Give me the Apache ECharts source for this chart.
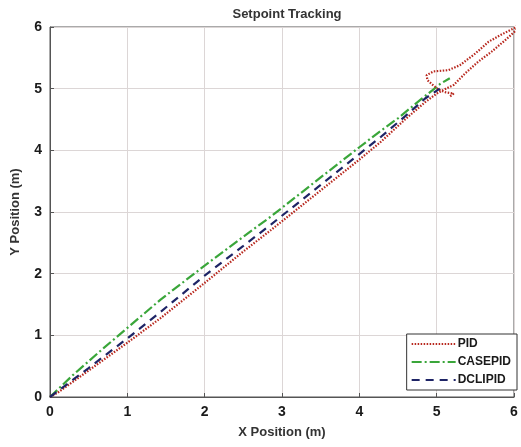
<!DOCTYPE html>
<html>
<head>
<meta charset="utf-8">
<script src="https://cdn.jsdelivr.net/npm/echarts@6/dist/echarts.min.js"></script>
<style>
html,body{margin:0;padding:0;background:#fff;}
#chart{width:521px;height:447px;}
</style>
</head>
<body>
<div id="chart"></div>
<script>
var seriesNames = ['PID', 'CASEPID', 'DCLIPID'];
var xTicks = [0, 1, 2, 3, 4, 5, 6];
var yTicks = [0, 1, 2, 3, 4, 5, 6];

// PID goes up the diagonal, overshoots and loops back near (5,5)
var pidData = [
	[0, 0], [0.1, 0.07], [0.5, 0.43], [1, 0.88], [1.43, 1.28], [2, 1.85],
	[2.5, 2.36], [2.86, 2.71], [3.5, 3.35], [4, 3.85], [4.28, 4.14],
	[4.59, 4.5], [4.85, 4.78], [5.0, 4.92], [5.12, 5.0], [5.22, 5.06],
	[5.37, 5.25], [5.54, 5.44], [5.71, 5.6], [5.89, 5.79], [6.03, 5.95],
	[6.05, 6.03], [6.0, 5.98], [5.84, 5.88], [5.67, 5.76], [5.5, 5.57],
	[5.3, 5.38], [5.15, 5.3], [4.96, 5.28], [4.87, 5.22], [4.88, 5.14],
	[4.95, 5.06], [5.03, 4.98], [5.12, 4.94], [5.22, 4.92], [5.16, 4.86]
];
var casepidData = [
	[0, 0], [0.3, 0.36], [0.7, 0.8], [1, 1.12], [1.43, 1.58], [2, 2.13],
	[2.5, 2.6], [2.86, 2.93], [3.5, 3.56], [4, 4.05], [4.28, 4.32],
	[4.5, 4.52], [4.8, 4.83], [5.05, 5.08], [5.17, 5.17]
];
var dclipidData = [
	[0, 0], [0.5, 0.47], [1, 0.95], [1.43, 1.38], [2, 1.97], [2.5, 2.45],
	[2.86, 2.8], [3.5, 3.44], [4, 3.94], [4.28, 4.22], [4.59, 4.55],
	[4.85, 4.84], [5.04, 5.0]
];

var myChart = echarts.init(document.getElementById('chart'));
var textColor = '#1a1a1a';
var font = 'Liberation Sans';
var option = {
	animation: false,
	backgroundColor: '#fff',
	title: {
		text: 'Setpoint Tracking',
		left: 282,
		textAlign: 'center',
		top: 3,
		textStyle: {fontFamily: font, fontSize: 13, fontWeight: 'bold', color: '#333'}
	},
	grid: {
		left: 50, right: 7, top: 27, bottom: 50,
		show: true, borderColor: '#555', borderWidth: 1
	},
	legend: {
		data: seriesNames,
		orient: 'vertical',
		right: 4,
		bottom: 57,
		itemWidth: 44,
		itemHeight: 12,
		itemGap: 6,
		padding: [4, 6, 4, 4],
		borderColor: '#333',
		borderWidth: 1,
		backgroundColor: '#fff',
		itemStyle: {opacity: 0, borderWidth: 0},
		textStyle: {fontFamily: font, fontSize: 12, fontWeight: 'bold', color: textColor, padding: [0, 0, 0, -3]}
	},
	xAxis: {
		type: 'value',
		min: xTicks[0], max: xTicks[xTicks.length - 1], interval: 1,
		name: 'X Position (m)',
		nameLocation: 'middle',
		nameGap: 29,
		nameTextStyle: {fontFamily: font, fontSize: 13, fontWeight: 'bold', color: '#333'},
		axisLine: {lineStyle: {color: '#555'}},
		axisTick: {inside: true, length: 4, lineStyle: {color: '#555'}},
		axisLabel: {fontFamily: font, fontSize: 14, fontWeight: 'bold', color: textColor, margin: 8},
		splitLine: {show: true, lineStyle: {color: '#dcd6d6'}}
	},
	yAxis: {
		type: 'value',
		min: yTicks[0], max: yTicks[yTicks.length - 1], interval: 1,
		name: 'Y Position (m)',
		nameLocation: 'middle',
		nameGap: 28,
		nameTextStyle: {fontFamily: font, fontSize: 13, fontWeight: 'bold', color: '#333'},
		axisLine: {show: true, lineStyle: {color: '#555'}},
		axisTick: {show: true, inside: true, length: 4, lineStyle: {color: '#555'}},
		axisLabel: {fontFamily: font, fontSize: 14, fontWeight: 'bold', color: textColor, margin: 8},
		splitLine: {show: true, lineStyle: {color: '#dcd6d6'}}
	},
	series: [
		{
			name: seriesNames[0], type: 'line', data: pidData,
			showSymbol: false, symbol: 'none', clip: false, z: 3,
			itemStyle: {color: '#b8281e'},
			lineStyle: {color: '#b8281e', width: 2.2, type: [1.5, 1.5]}
		},
		{
			name: seriesNames[1], type: 'line', data: casepidData,
			showSymbol: false, symbol: 'none', clip: false, z: 2,
			itemStyle: {color: '#3aa63a'},
			lineStyle: {color: '#3aa63a', width: 2.2, type: [10, 3, 2, 3]}
		},
		{
			name: seriesNames[2], type: 'line', data: dclipidData,
			showSymbol: false, symbol: 'none', clip: false, z: 4,
			itemStyle: {color: '#1e2466'},
			lineStyle: {color: '#1e2466', width: 2.2, type: [8, 6]}
		}
	]
};
myChart.setOption(option);
</script>
</body>
</html>
